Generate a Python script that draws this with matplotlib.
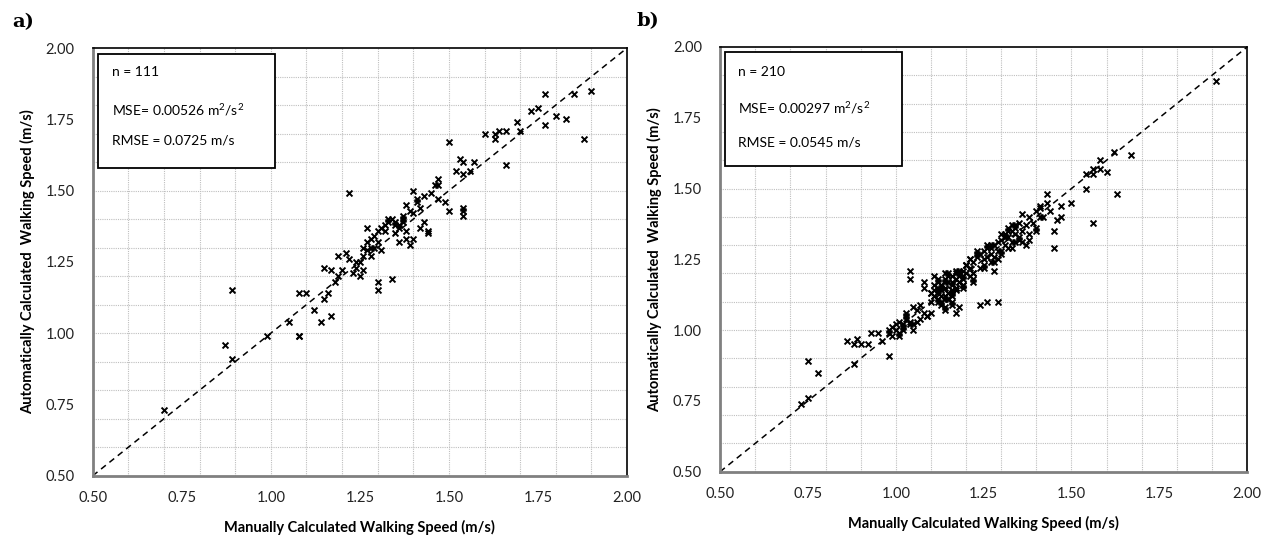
import matplotlib
matplotlib.use("Agg")
import matplotlib.pyplot as plt
from matplotlib.patches import Rectangle

plt.rcParams['font.family'] = ['Lato', 'DejaVu Sans']
plt.rcParams['mathtext.default'] = 'regular'

# ---- data: panel a (manual, automatic) ----
a_manual = [0.70, 0.87, 0.89, 0.89, 0.99, 1.08, 1.08, 1.05, 1.08, 1.10, 1.12, 1.14, 1.17,
            1.15, 1.16, 1.15, 1.17, 1.19, 1.19, 1.22, 1.24, 1.25, 1.26, 1.26, 1.27, 1.27,
            1.28, 1.28, 1.29, 1.30, 1.30, 1.31, 1.32, 1.33, 1.34, 1.34, 1.35, 1.35, 1.36,
            1.36, 1.37, 1.37, 1.38, 1.38, 1.39, 1.40, 1.40, 1.41, 1.42, 1.43, 1.44, 1.44,
            1.38, 1.42, 1.47, 1.40, 1.43, 1.46, 1.47, 1.47, 1.50, 1.52, 1.53, 1.54, 1.57,
            1.54, 1.56, 1.60, 1.63, 1.63, 1.64, 1.66, 1.66, 1.69, 1.70, 1.73, 1.75, 1.77,
            1.77, 1.80, 1.85, 1.88, 1.90, 1.83, 1.54, 1.54, 1.54, 1.50, 1.49, 1.45, 1.30,
            1.25, 1.27, 1.29, 1.31, 1.33, 1.35, 1.36, 1.37, 1.32, 1.26, 1.28, 1.30, 1.21,
            1.23, 1.18, 1.20, 1.22, 1.24, 1.39, 1.41]
a_auto = [0.73, 0.96, 0.91, 1.15, 0.99, 0.99, 0.99, 1.04, 1.14, 1.14, 1.08, 1.04, 1.06,
          1.12, 1.14, 1.23, 1.22, 1.27, 1.20, 1.49, 1.23, 1.20, 1.22, 1.30, 1.37, 1.32,
          1.33, 1.27, 1.30, 1.18, 1.15, 1.29, 1.36, 1.39, 1.19, 1.40, 1.38, 1.35, 1.32,
          1.38, 1.41, 1.39, 1.36, 1.33, 1.31, 1.42, 1.33, 1.46, 1.37, 1.39, 1.35, 1.36,
          1.45, 1.44, 1.47, 1.50, 1.48, 1.52, 1.54, 1.52, 1.67, 1.57, 1.61, 1.60, 1.60,
          1.56, 1.57, 1.70, 1.70, 1.68, 1.71, 1.71, 1.59, 1.74, 1.71, 1.78, 1.79, 1.84,
          1.73, 1.76, 1.84, 1.68, 1.85, 1.75, 1.41, 1.43, 1.44, 1.43, 1.46, 1.49, 1.36,
          1.25, 1.29, 1.34, 1.37, 1.40, 1.39, 1.37, 1.40, 1.38, 1.27, 1.30, 1.32, 1.28,
          1.21, 1.18, 1.22, 1.26, 1.25, 1.43, 1.47]

# ---- data: panel b ----
b_manual = [0.73, 0.75, 0.75, 0.78, 0.88, 0.86, 0.88, 0.89, 0.90, 0.92, 0.93, 0.95, 0.96,
            0.98, 0.98, 0.98, 0.99, 1.00, 1.01, 1.01, 1.02, 1.02, 1.03, 1.04, 1.05, 1.04,
            1.04, 1.08, 1.08, 1.10, 1.10, 1.11, 1.11, 1.12, 1.12, 1.12, 1.13, 1.13, 1.13,
            1.14, 1.14, 1.14, 1.15, 1.15, 1.15, 1.16, 1.16, 1.16, 1.17, 1.17, 1.17, 1.18,
            1.18, 1.18, 1.19, 1.19, 1.19, 1.20, 1.20, 1.21, 1.21, 1.22, 1.22, 1.23, 1.24,
            1.24, 1.25, 1.25, 1.26, 1.26, 1.27, 1.27, 1.28, 1.28, 1.29, 1.29, 1.30, 1.30,
            1.31, 1.31, 1.32, 1.32, 1.33, 1.33, 1.34, 1.34, 1.35, 1.35, 1.36, 1.36, 1.37,
            1.38, 1.38, 1.39, 1.40, 1.40, 1.41, 1.41, 1.43, 1.43, 1.45, 1.45, 1.47, 1.50,
            1.54, 1.54, 1.56, 1.56, 1.58, 1.58, 1.60, 1.56, 1.62, 1.67, 1.63, 1.91, 1.24,
            1.29, 1.16, 1.18, 1.16, 1.11, 1.12, 1.13, 1.14, 1.15, 1.16, 1.17, 1.12, 1.13,
            1.14, 1.15, 1.16, 1.17, 1.18, 1.11, 1.12, 1.13, 1.14, 1.15, 1.16, 1.17, 1.10,
            1.11, 1.12, 1.13, 1.14, 1.15, 1.16, 1.18, 1.19, 1.20, 1.21, 1.22, 1.23, 1.25,
            1.26, 1.27, 1.28, 1.30, 1.31, 1.32, 1.33, 1.34, 1.35, 1.30, 1.31, 1.32, 1.33,
            1.34, 1.29, 1.27, 1.25, 1.22, 1.20, 1.19, 1.09, 1.08, 1.07, 1.06, 1.05, 1.04,
            1.03, 1.02, 1.01, 1.00, 0.99, 1.03, 1.05, 1.06, 1.07, 1.09, 1.10, 1.21, 1.23,
            1.26, 1.28, 1.36, 1.37, 1.38, 1.40, 1.41, 1.42, 1.44, 1.46, 1.47, 1.14, 1.17,
            1.19, 1.22]
b_auto = [0.74, 0.76, 0.89, 0.85, 0.88, 0.96, 0.95, 0.97, 0.95, 0.95, 0.99, 0.99, 0.96,
          0.99, 0.91, 1.00, 1.01, 1.00, 1.03, 0.98, 1.02, 1.00, 1.04, 1.03, 1.02, 1.21,
          1.18, 1.17, 1.15, 1.13, 1.10, 1.14, 1.12, 1.15, 1.11, 1.13, 1.16, 1.12, 1.14,
          1.18, 1.15, 1.11, 1.17, 1.13, 1.20, 1.14, 1.19, 1.16, 1.18, 1.15, 1.21, 1.17,
          1.20, 1.19, 1.18, 1.21, 1.16, 1.20, 1.23, 1.19, 1.22, 1.24, 1.20, 1.26, 1.22,
          1.27, 1.25, 1.28, 1.26, 1.29, 1.24, 1.27, 1.30, 1.26, 1.28, 1.31, 1.27, 1.32,
          1.30, 1.34, 1.29, 1.33, 1.35, 1.31, 1.34, 1.36, 1.33, 1.38, 1.35, 1.31, 1.37,
          1.34, 1.40, 1.38, 1.42, 1.35, 1.40, 1.43, 1.45, 1.48, 1.35, 1.29, 1.44, 1.45,
          1.50, 1.55, 1.55, 1.57, 1.57, 1.60, 1.56, 1.38, 1.63, 1.62, 1.48, 1.88, 1.09,
          1.10, 1.09, 1.08, 1.13, 1.12, 1.10, 1.09, 1.08, 1.11, 1.12, 1.14, 1.14, 1.16,
          1.17, 1.13, 1.10, 1.15, 1.17, 1.16, 1.18, 1.15, 1.12, 1.19, 1.17, 1.20, 1.13,
          1.19, 1.17, 1.10, 1.07, 1.11, 1.14, 1.21, 1.19, 1.23, 1.25, 1.20, 1.27, 1.23,
          1.30, 1.29, 1.24, 1.34, 1.33, 1.36, 1.29, 1.37, 1.32, 1.28, 1.33, 1.35, 1.37,
          1.31, 1.25, 1.30, 1.22, 1.17, 1.23, 1.16, 1.05, 1.06, 1.04, 1.07, 1.00, 1.02,
          1.05, 1.01, 0.99, 1.02, 0.98, 1.06, 1.08, 1.03, 1.09, 1.05, 1.06, 1.25, 1.28,
          1.10, 1.21, 1.41, 1.30, 1.32, 1.36, 1.44, 1.40, 1.42, 1.39, 1.40, 1.20, 1.06,
          1.15, 1.18]

panel_labels = ['a)', 'b)']
stats_a = ['n = 111', 'MSE= 0.00526 m$^2$/s$^2$', 'RMSE = 0.0725 m/s']
stats_b = ['n = 210', 'MSE= 0.00297 m$^2$/s$^2$', 'RMSE = 0.0545 m/s']
ticks = [0.50, 0.75, 1.00, 1.25, 1.50, 1.75, 2.00]
xlabel = 'Manually Calculated Walking Speed (m/s)'
ylabel = 'Automatically Calculated  Walking Speed (m/s)'

fig = plt.figure(figsize=(12.7, 5.4), dpi=100)
ax_a = fig.add_axes([0.073, 0.119, 0.4207, 0.792])
ax_b = fig.add_axes([0.567, 0.1265, 0.415, 0.7865])

def style(ax, xs, ys, stats, box, texty, ylab_x, xlab_y):
    ax.set_xlim(0.5, 2.0)
    ax.set_ylim(0.5, 2.0)
    grid = [0.6 + 0.1 * i for i in range(14)]
    for g in grid:
        ax.axvline(g, color='#bfbfbf', lw=0.8, ls=(0, (1, 1)), zorder=0)
        ax.axhline(g, color='#bfbfbf', lw=0.8, ls=(0, (1, 1)), zorder=0)
    ax.plot([0.5, 2.0], [0.5, 2.0], color='black', lw=1.1, ls=(0, (4, 3)), zorder=2)
    ax.scatter(xs, ys, marker='x', s=18, color='black', linewidths=1.4, zorder=3)
    ax.set_xticks(ticks)
    ax.set_yticks(ticks)
    ax.set_xticklabels([f'{t:.2f}' for t in ticks])
    ax.set_yticklabels([f'{t:.2f}' for t in ticks])
    ax.tick_params(length=0, labelsize=10.5, colors='#222222', pad=13)
    ax.tick_params(axis='x', pad=11)
    for s in ['left', 'bottom']:
        ax.spines[s].set_color('#808080')
        ax.spines[s].set_linewidth(2)
    for s in ['top', 'right']:
        ax.spines[s].set_color('black')
        ax.spines[s].set_linewidth(1.2)
    ax.set_xlabel(xlabel, fontsize=10.5, fontweight='bold')
    ax.set_ylabel(ylabel, fontsize=10.5, fontweight='bold')
    ax.yaxis.set_label_coords(ylab_x, 0.5)
    ax.xaxis.set_label_coords(0.5, xlab_y)
    x0, x1, y0, y1 = box
    ax.add_patch(Rectangle((x0, y0), x1 - x0, y1 - y0, transform=ax.transAxes,
                           facecolor='white', edgecolor='black', lw=1.3, zorder=5))
    for t, yy in zip(stats, texty):
        ax.text(x0 + 0.025, yy, t, transform=ax.transAxes, fontsize=10,
                va='center', ha='left', zorder=6)

style(ax_a, a_manual, a_auto, stats_a, (0.0105, 0.341, 0.719, 0.986),
      [0.945, 0.855, 0.783], -0.108, -0.1036)
style(ax_b, b_manual, b_auto, stats_b, (0.0095, 0.345, 0.7205, 0.989),
      [0.942, 0.856, 0.774], -0.11, -0.104)

fig.text(0.0095, 1 - 22 / 540, panel_labels[0], fontsize=14, fontweight='bold',
         family='DejaVu Serif', va='center', ha='left')
fig.text(0.5015, 1 - 21 / 540, panel_labels[1], fontsize=14, fontweight='bold',
         family='DejaVu Serif', va='center', ha='left')

fig.savefig('out.png', dpi=100)
